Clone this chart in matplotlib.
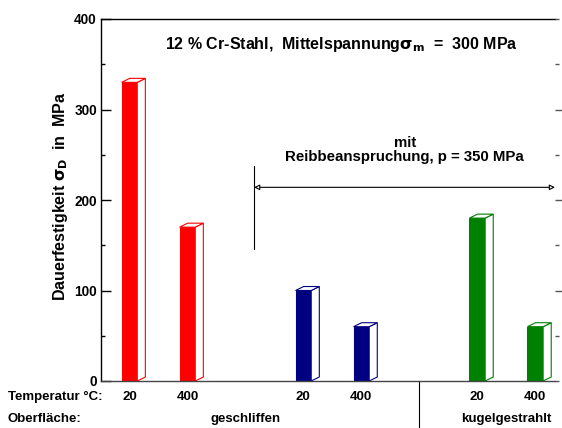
import matplotlib
matplotlib.use("Agg")
import matplotlib.pyplot as plt
import matplotlib.transforms as mtransforms
from matplotlib.patches import Polygon, Rectangle
from matplotlib.ticker import MultipleLocator

plt.rcParams.update({
    "font.family": ["Liberation Sans", "DejaVu Sans"],
    "font.weight": "bold",
    "font.size": 9.5,
})

# ── data ──────────────────────────────────────────────────────────────────────
positions = [1, 2, 4, 5, 7, 8]
values = [330, 170, 100, 60, 180, 60]
temps = ["20", "400", "20", "400", "20", "400"]
colors = ["#FF0000", "#FF0000", "#000080", "#000080", "#008000", "#008000"]
surfaces = ["geschliffen", "kugelgestrahlt"]
surface_pos = [3.0, 7.5]
divider_x = 6.0
friction_start = 3.15

W = 0.135      # half width of front face
DX = 0.14      # depth offset in x
DY = 4.4       # depth offset in y

fig = plt.figure(figsize=(5.62, 4.28), dpi=100)
ax = fig.add_axes([101 / 562, 1 - 381 / 428, 454 / 562, 362 / 428])
ax.set_xlim(0.51, 8.34)
ax.set_ylim(0, 400)

for x, v, c in zip(positions, values, colors):
    ax.add_patch(Rectangle((x - W, 0), 2 * W, v, facecolor=c, edgecolor=c, lw=0.8))
    side = [(x + W, 0), (x + W + DX, DY), (x + W + DX, v + DY), (x + W, v)]
    ax.add_patch(Polygon(side, closed=True, facecolor="white", edgecolor=c, lw=0.8))
    top = [(x - W, v), (x - W + DX, v + DY), (x + W + DX, v + DY), (x + W, v)]
    ax.add_patch(Polygon(top, closed=True, facecolor="white", edgecolor=c, lw=0.8))

# axes style
ax.spines["right"].set_visible(False)
for s in ["left", "bottom", "top"]:
    ax.spines[s].set_linewidth(1.0)
ax.spines["bottom"].set_color("#444444")
ax.set_xticks([])
ax.yaxis.set_major_locator(MultipleLocator(100))
ax.yaxis.set_minor_locator(MultipleLocator(50))
ax.tick_params(axis="y", which="major", direction="in", length=7, width=1, labelsize=9.8, pad=3)
ax.tick_params(axis="y", which="minor", direction="in", length=3, width=1)

ax2 = ax.twinx()
ax2.set_ylim(0, 400)
for s in ax2.spines.values():
    s.set_visible(False)
ax2.yaxis.set_minor_locator(MultipleLocator(50))
ax2.set_yticks([100, 200, 300])
ax2.tick_params(axis="y", which="major", direction="out", length=7, width=1, color="#555555", labelright=False)
ax2.tick_params(axis="y", which="minor", direction="out", length=3, width=1, color="#555555")

ax.set_ylabel(r"Dauerfestigkeit $\mathbf{\sigma_D}$  in  MPa", fontsize=11.5, fontweight="bold")
ax.yaxis.set_label_coords(-0.068, 0.51)

# title
ax.text(0.53, 0.93, r"12 % Cr-Stahl,  Mittelspannung$\mathbf{\sigma_m}$  =  300 MPa",
        transform=ax.transAxes, ha="center", va="center", fontsize=11.5)

# friction annotation
ax.text(5.75, 255, "mit\nReibbeanspruchung, p = 350 MPa", ha="center", va="center",
        fontsize=10.8, linespacing=1.05)
ax.annotate("", xy=(8.34, 214), xytext=(friction_start, 214),
            arrowprops=dict(arrowstyle="<|-|>", edgecolor="black", lw=0.8,
                            facecolor="white", shrinkA=0, shrinkB=0,
                            mutation_scale=8), annotation_clip=False)
ax.plot([friction_start, friction_start], [146, 238], color="black", lw=0.8)

# bottom labels
trans = mtransforms.blended_transform_factory(ax.transData, fig.transFigure)
fig.text(8 / 562, 1 - 397 / 428, "Temperatur °C:", ha="left", va="center", fontsize=9.5)
fig.text(8 / 562, 1 - 419 / 428, "Oberfläche:", ha="left", va="center", fontsize=9.5)
for x, t in zip(positions, temps):
    ax.text(x, 1 - 397 / 428, t, transform=trans, ha="center", va="center", fontsize=9.5, clip_on=False)
for x, s in zip(surface_pos, surfaces):
    ax.text(x, 1 - 419 / 428, s, transform=trans, ha="center", va="center", fontsize=9.5, clip_on=False)
ax.plot([divider_x, divider_x], [0, 1 - 381 / 428], transform=trans, color="black", lw=0.8, clip_on=False)

fig.savefig("out.png", dpi=100)
